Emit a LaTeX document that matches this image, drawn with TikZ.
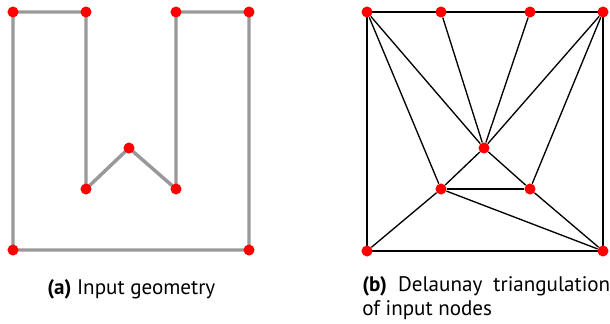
\documentclass[tikz,border=0pt]{standalone}
\usepackage{fontspec}
\setmainfont{PT Sans}
\usetikzlibrary{backgrounds}
\tikzset{
  vtx/.style={circle,fill=red,inner sep=0pt,minimum size=8.3pt},
  geo/.style={draw=gray!80,line width=2.6pt},
  tri/.style={draw=black,line width=1pt},
  captxt/.style={inner sep=0pt,font=\fontsize{15.8}{18}\selectfont}
}
\begin{document}
\begin{tikzpicture}[x=0.75pt,y=-0.75pt]
\useasboundingbox (0,0) rectangle (610,324);
% input geometry
\node[vtx] (a1) at (13,12) {};
\node[vtx] (a2) at (86,12) {};
\node[vtx] (a3) at (176,12) {};
\node[vtx] (a4) at (249,12) {};
\node[vtx] (a5) at (249,250) {};
\node[vtx] (a6) at (13,250) {};
\node[vtx] (a7) at (86,189) {};
\node[vtx] (a8) at (129,148) {};
\node[vtx] (a9) at (176,189) {};
% delaunay triangulation
\node[vtx] (tl) at (367,12) {};
\node[vtx] (tb) at (441,12) {};
\node[vtx] (tc) at (530,12) {};
\node[vtx] (tr) at (603,12) {};
\node[vtx] (mc) at (484,148) {};
\node[vtx] (ml) at (441,189) {};
\node[vtx] (mr) at (530,189) {};
\node[vtx] (bl) at (367,251) {};
\node[vtx] (br) at (603,251) {};
\begin{pgfonlayer}{background}
\draw[geo] (a1.center) -- (a2.center) -- (a7.center) -- (a8.center) -- (a9.center)
  -- (a3.center) -- (a4.center) -- (a5.center) -- (a6.center) -- cycle;
\draw[tri] (tl.center) -- (tb.center) -- (tc.center) -- (tr.center) -- (br.center)
  -- (bl.center) -- cycle;
\foreach \u/\v in {tl/mc,tl/ml,tb/mc,tc/mc,tr/mc,tr/mr,mc/ml,mc/mr,ml/mr,bl/ml,ml/br,mr/br}
  \draw[tri] (\u) -- (\v);
\end{pgfonlayer}
% captions
\node[captxt,anchor=base west] (capa) at (47,294) {\textbf{(a)}\ Input geometry};
\node[captxt,anchor=base west,align=left] (capb) at (362,315)
  {\makebox[186pt][s]{\textbf{(b)}\ Delaunay triangulation}\\of input nodes};
\end{tikzpicture}
\end{document}
